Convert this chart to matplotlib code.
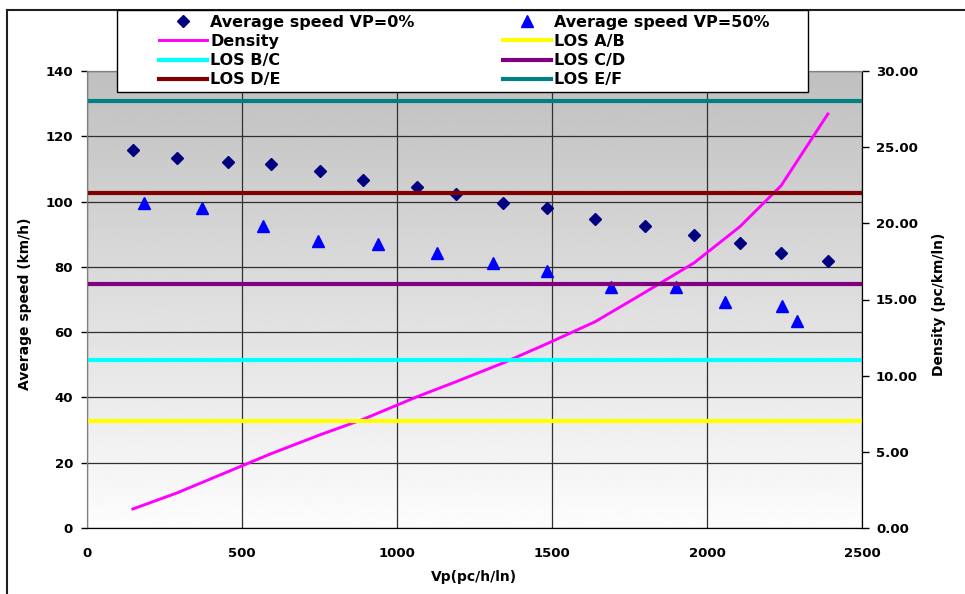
import matplotlib.pyplot as plt
import numpy as np
from matplotlib.lines import Line2D
from matplotlib.patches import Rectangle

# VP = 0 % (diamonds)
vp_0 = [148, 290, 455, 594, 752, 890, 1065, 1190, 1342, 1484, 1639, 1800, 1958, 2106, 2239, 2390]
speed_0 = [115.8, 113.4, 112.1, 111.5, 109.4, 106.6, 104.5, 102.3, 99.6, 98.0, 94.7, 92.5, 89.8, 87.3, 84.3, 81.8]

# VP = 50 % (triangles)
vp_50 = [184, 371, 568, 745, 939, 1129, 1310, 1484, 1690, 1900, 2058, 2242, 2290]
speed_50 = [99.6, 98.0, 92.5, 87.9, 87.0, 84.3, 81.2, 78.7, 73.8, 73.8, 69.2, 68.0, 63.4]

# density curve (right axis), same flows as VP=0%
density = [1.25, 2.30, 3.70, 4.88, 6.12, 7.13, 8.62, 9.60, 10.83, 12.1, 13.54, 15.47, 17.4, 19.78, 22.47, 27.18]

los_names = ["LOS A/B", "LOS B/C", "LOS C/D", "LOS D/E", "LOS E/F"]
los_density = [7, 11, 16, 22, 28]
los_colors = ["#ffff00", "#00ffff", "#800080", "#800000", "#008080"]

plt.rcParams["font.family"] = "DejaVu Sans"
plt.rcParams["font.weight"] = "bold"

W, H = 965, 594
fig = plt.figure(figsize=(W / 100, H / 100), dpi=100)
ax = fig.add_axes([87 / W, 1 - 528 / H, 775 / W, 457 / H])

# plot area gradient (grey on top, white at the bottom)
grad = np.linspace(0.75, 0.99, 256).reshape(-1, 1)
ax.imshow(grad, cmap="gray", vmin=0, vmax=1, extent=[0, 2500, 0, 140],
          aspect="auto", origin="upper", zorder=0)

ax.set_xlim(0, 2500)
ax.set_ylim(0, 140)
ax.set_xticks(np.arange(0, 2501, 500))
ax.set_yticks(np.arange(0, 141, 20))
ax.set_axisbelow(True)
ax.grid(True, color="#303030", linewidth=0.9)
ax.tick_params(axis="y", direction="out", length=4, width=1, pad=6, labelsize=9.5)
ax.tick_params(axis="x", length=0, pad=14, labelsize=9.5)

h0, = ax.plot(vp_0, speed_0, linestyle="none", marker="D", ms=6,
              color="#000080", label="Average speed VP=0%", zorder=3)
h50, = ax.plot(vp_50, speed_50, linestyle="none", marker="^", ms=8,
               color="#0000ff", label="Average speed VP=50%", zorder=3)

ax2 = ax.twinx()
ax2.set_ylim(0, 30)
ax2.set_yticks(np.arange(0, 31, 5))
ax2.set_yticklabels([f"{v:.2f}" for v in np.arange(0, 31, 5)])
ax2.tick_params(axis="y", direction="out", length=5, width=1, pad=5, labelsize=9.5)

hd, = ax2.plot(vp_0, density, color="#ff00ff", linewidth=2.1, label="Density")
los_handles = []
for name, dens, col in zip(los_names, los_density, los_colors):
    h = ax2.axhline(dens, color=col, linewidth=3, label=name)
    los_handles.append(h)

for a in (ax, ax2):
    a.spines["top"].set_color("#808080")
    a.spines["left"].set_color("#808080")
    a.spines["right"].set_color("black")
    a.spines["bottom"].set_color("black")

ax.set_xlabel("Vp(pc/h/ln)", fontsize=10, fontweight="bold")
ax.xaxis.set_label_coords(0.5, -(570 - 528) / 457)
ax.set_ylabel("Average speed (km/h)", fontsize=10, fontweight="bold")
ax.yaxis.set_label_coords((32 - 87) / 775, 0.49)
ax2.set_ylabel("Density (pc/km/ln)", fontsize=10, fontweight="bold")
ax2.yaxis.set_label_coords((932 - 87) / 775, 0.49)

# chart border (top and left edges visible)
fig.add_artist(Line2D([7 / W, 7 / W], [0, 1 - 10 / H], transform=fig.transFigure,
                      color="#202020", linewidth=1.5))
fig.add_artist(Line2D([7 / W, 1], [1 - 10 / H, 1 - 10 / H], transform=fig.transFigure,
                      color="#202020", linewidth=1.5))

# legend box
fig.add_artist(Rectangle((117 / W, 1 - 92 / H), 691 / W, 82 / H, transform=fig.transFigure,
                         facecolor="white", edgecolor="black", linewidth=1, zorder=4))
handles = [h0, hd, los_handles[1], los_handles[3],
           h50, los_handles[0], los_handles[2], los_handles[4]]
fig.legend(handles, [h.get_label() for h in handles], ncol=2, mode="expand",
           loc="center", bbox_to_anchor=(159 / W, 1 - 89 / H, 611 / W, 76 / H),
           frameon=False, borderpad=0, borderaxespad=0, handlelength=3.0,
           handletextpad=0.2, labelspacing=0.27, fontsize=11.5)

fig.savefig("out.png", dpi=100)
